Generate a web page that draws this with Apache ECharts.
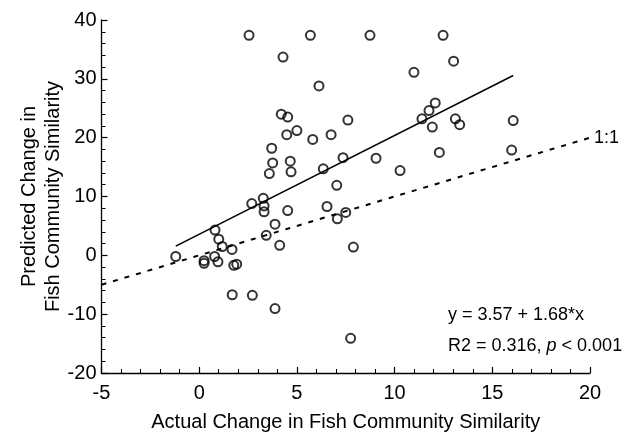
<!DOCTYPE html>
<html>
<head>
<meta charset="utf-8">
<script src="https://cdn.jsdelivr.net/npm/echarts@6/dist/echarts.min.js"></script>
<style>html,body{margin:0;padding:0;background:#fff}#c{width:635px;height:437px}</style>
</head>
<body>
<div id="c"></div>
<script>
// Actual change (x) and predicted change (y) in fish community similarity
var actualX = [2.55,5.69,8.74,12.48,4.29,13.02,10.99,6.13,12.08,11.76,4.20,4.53,11.40,13.11,7.61,16.07,13.33,11.93,5.0,4.48,6.75,5.81,3.71,15.99,12.29,7.36,9.05,4.66,3.76,6.35,10.28,4.70,3.59,7.04,3.28,2.69,3.32,6.54,4.53,3.32,7.5,7.07,3.88,0.81,3.43,1.0,4.12,1.18,7.89,1.68,-1.2,0.79,0.25,0.25,0.96,1.77,1.92,1.69,2.72,3.88,7.75];
var predictedY = [37.4,37.4,37.4,37.4,33.7,33.0,31.1,28.8,25.9,24.6,24.0,23.5,23.2,23.2,23.0,22.9,22.2,21.8,21.2,20.5,20.5,19.7,18.2,17.9,17.5,16.6,16.5,16.0,15.7,14.7,14.4,14.2,13.9,11.9,9.7,8.8,8.4,8.3,7.6,7.4,7.3,6.2,5.3,4.3,3.4,2.75,1.7,1.5,1.4,1.0,-0.2,-0.2,-0.9,-1.35,-1.1,-1.7,-1.5,-6.7,-6.8,-9.05,-14.1];
var fitCoef = [3.57, 1.68];          // intercept, slope
var oneToOneX = [-5, 20];
var xTicks = [-5, 0, 5, 10, 15, 20];
var yTicks = [-20, -10, 0, 10, 20, 30, 40];

var pts = actualX.map(function (x, i) { return [x, predictedY[i]]; });
var xmin = Math.min.apply(null, actualX), xmax = Math.max.apply(null, actualX);
var fitLine = [[xmin, fitCoef[0] + fitCoef[1] * xmin], [xmax, fitCoef[0] + fitCoef[1] * xmax]];
var idLine = oneToOneX.map(function (v) { return [v, v]; });

var F = 'Liberation Sans, Arial, sans-serif';
var chart = echarts.init(document.getElementById('c'), null, {renderer: 'canvas'});
chart.setOption({
  animation: false,
  backgroundColor: '#fff',
  grid: {left: 101.5, right: 45, top: 20, bottom: 61},
  xAxis: {
    type: 'value', min: xTicks[0], max: xTicks[xTicks.length - 1], interval: 5,
    splitLine: {show: false},
    axisLine: {onZero: false, lineStyle: {color: '#000', width: 1.3}},
    axisTick: {inside: true, length: 6, lineStyle: {color: '#000', width: 1.2}},
    minorTick: {show: true, splitNumber: 5, length: 4, lineStyle: {color: '#000', width: 1}},
    axisLabel: {color: '#000', fontSize: 20, fontFamily: F, margin: 10},
    name: 'Actual Change in Fish Community Similarity',
    nameLocation: 'middle', nameGap: 39, nameMoveOverlap: false,
    nameTextStyle: {color: '#000', fontSize: 20, fontFamily: F}
  },
  yAxis: {
    type: 'value', min: yTicks[0], max: yTicks[yTicks.length - 1], interval: 10,
    splitLine: {show: false},
    axisLine: {show: true, onZero: false, lineStyle: {color: '#000', width: 1.3}},
    axisTick: {show: true, inside: true, length: 6, lineStyle: {color: '#000', width: 1.2}},
    minorTick: {show: true, splitNumber: 5, length: 4, lineStyle: {color: '#000', width: 1}},
    axisLabel: {color: '#000', fontSize: 20, fontFamily: F, margin: 5},
    name: 'Predicted Change in\nFish Community Similarity',
    nameLocation: 'middle', nameGap: 36, nameRotate: 90, nameMoveOverlap: false,
    nameTextStyle: {color: '#000', fontSize: 20, fontFamily: F, lineHeight: 24}
  },
  series: [
    {
      type: 'line', data: idLine, symbol: 'none', silent: true,
      lineStyle: {color: '#000', width: 2, type: [5, 7]},
      endLabel: {show: true, formatter: '1:1', color: '#000', fontSize: 18, fontFamily: F, distance: 4}
    },
    {
      type: 'line', data: fitLine, symbol: 'none', silent: true,
      lineStyle: {color: '#000', width: 1.5}
    },
    {
      type: 'scatter', data: pts, symbol: 'circle', symbolSize: 9,
      itemStyle: {color: 'rgba(0,0,0,0)', borderColor: '#000', borderWidth: 2}
    }
  ],
  graphic: [
    {type: 'text', left: 448, top: 306, style: {text: 'y = 3.57 + 1.68*x', fill: '#000', font: '18px ' + F}},
    {type: 'text', left: 448, top: 337, style: {
      text: '{n|R2 = 0.316, }{i|p}{n| < 0.001}',
      rich: {n: {fill: '#000', font: '18px ' + F}, i: {fill: '#000', font: 'italic 18px ' + F}}
    }}
  ]
});
</script>
</body>
</html>
